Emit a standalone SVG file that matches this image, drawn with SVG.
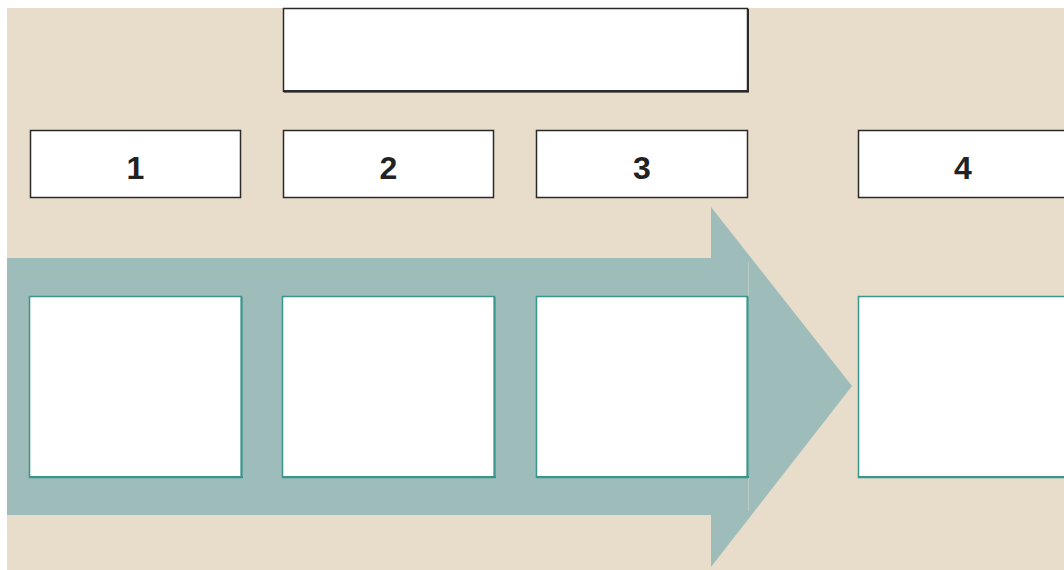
<svg xmlns="http://www.w3.org/2000/svg" width="1064" height="570" viewBox="0 0 1064 570">
<style>
.hdr{fill:#ffffff;stroke:#2a2a2a;stroke-width:1.5}
.box{fill:#ffffff;stroke:#3a968c;stroke-width:1.5}
.sh-d{fill:#2a2a2a}
.sh-t{fill:#3a968c}
.num{font-family:"Liberation Sans",Arial,sans-serif;font-weight:bold;font-size:32px;fill:#222222;text-anchor:middle}
</style>
<rect x="0" y="0" width="1064" height="570" fill="#ffffff"/>
<rect x="7" y="8" width="1057" height="562" fill="#e8dccb"/>
<g id="arrow">
<polygon points="711,207 852,386 711,567" fill="#9ebdba"/>
<rect x="7" y="258" width="741" height="257" fill="#9ebdba"/>
<line x1="748.5" y1="262" x2="748.5" y2="511" stroke="#b9cdc8" stroke-width="1"/>
</g>
<g id="title">
<rect class="hdr" x="283.5" y="8.5" width="464" height="83"/>
<rect class="sh-d" x="284" y="90" width="465" height="2.5"/>
<rect class="sh-d" x="747" y="9" width="2" height="83"/>
</g>
<g id="h1"><rect class="hdr" x="30.5" y="130.5" width="210" height="67"/><text class="num" x="135.5" y="179">1</text></g>
<g id="h2"><rect class="hdr" x="283.5" y="130.5" width="210" height="67"/><text class="num" x="388.5" y="179">2</text></g>
<g id="h3"><rect class="hdr" x="536.5" y="130.5" width="211" height="67"/><text class="num" x="642" y="179">3</text></g>
<g id="h4"><rect class="hdr" x="858.5" y="130.5" width="220" height="67"/><text class="num" x="963" y="179">4</text></g>
<g id="b1"><rect class="box" x="29.5" y="296.5" width="212" height="181"/><rect class="sh-t" x="30" y="476" width="213" height="2"/><rect class="sh-t" x="240.5" y="297" width="2" height="181"/></g>
<g id="b2"><rect class="box" x="282.5" y="296.5" width="212" height="181"/><rect class="sh-t" x="283" y="476" width="213" height="2"/><rect class="sh-t" x="493.5" y="297" width="2" height="181"/></g>
<g id="b3"><rect class="box" x="536.5" y="296.5" width="211" height="181"/><rect class="sh-t" x="537" y="476" width="212" height="2"/><rect class="sh-t" x="746.5" y="297" width="2" height="181"/></g>
<g id="b4"><rect class="box" x="858.5" y="296.5" width="220" height="181"/><rect class="sh-t" x="859" y="476" width="220" height="2"/></g>
<g id="connectors"></g>
</svg>
